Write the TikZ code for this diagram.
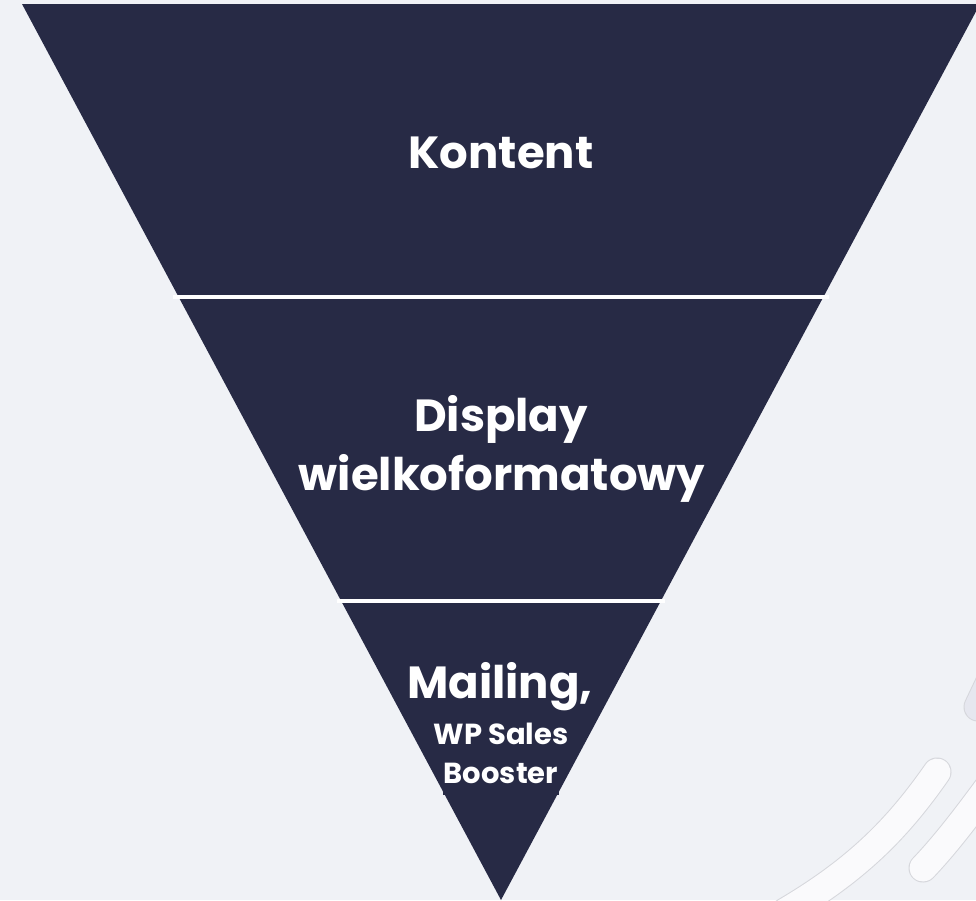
\documentclass[tikz,border=0pt]{standalone}
\usepackage{fontspec}
\setmainfont{Poppins}
\definecolor{bgc}{HTML}{F0F2F6}
\definecolor{navy}{HTML}{272A45}
\definecolor{swoosh}{HTML}{FAFAFC}
\definecolor{swooshedge}{HTML}{D6D7DC}
\definecolor{blob}{HTML}{E6E7EF}
\tikzset{
  bigtxt/.style={text=white, font=\fontsize{45}{50}\selectfont\bfseries, anchor=base, inner sep=0pt},
  smalltxt/.style={text=white, font=\fontsize{29}{32}\selectfont\bfseries, anchor=base, inner sep=0pt},
  gapline/.style={draw=white, line width=4pt},
  swooshline/.style={line cap=round, line width=#1},
}
\begin{document}
\begin{tikzpicture}[x=1pt, y=-1pt]
  % canvas
  \fill[bgc] (0,0) rectangle (976,900);
  \useasboundingbox (0,0) rectangle (976,900);
  \begin{scope}
    \clip (0,0) rectangle (976,900);
    % decorative swooshes, lower right
    \draw[swooshedge, swooshline=29pt] (937,772) .. controls (900,825) and (860,868) .. (785,912);
    \draw[swoosh, swooshline=27pt] (937,772) .. controls (900,825) and (860,868) .. (785,912);
    \draw[swooshedge, swooshline=29pt] (923,868) .. controls (945,845) and (968,815) .. (995,778);
    \draw[swoosh, swooshline=27pt] (923,868) .. controls (945,845) and (968,815) .. (995,778);
    \draw[swooshedge, swooshline=29pt] (978,707) -- (1005,650);
    \draw[blob, swooshline=27pt] (978,707) -- (1005,650);
    % funnel
    \fill[navy] (22,4) -- (980,4) -- (501,900) -- cycle;
    \fill[navy] (443,760) rectangle (559,795);
    % separators between the stages
    \draw[gapline] (173,296.5) -- (829,296.5);
    \draw[gapline] (337,600.5) -- (665,600.5);
  \end{scope}
  % stage labels
  \node[bigtxt] (kontent) at (501,168) {Kontent};
  \node[bigtxt] (display) at (501,431) {Display};
  \node[bigtxt] (wielko) at (502,490) {wielkoformatowy};
  \node[bigtxt] (mailing) at (500,698) {Mailing,};
  \node[smalltxt] (wpsales) at (501,744) {WP Sales};
  \node[smalltxt] (booster) at (501,783) {Booster};
\end{tikzpicture}
\end{document}
